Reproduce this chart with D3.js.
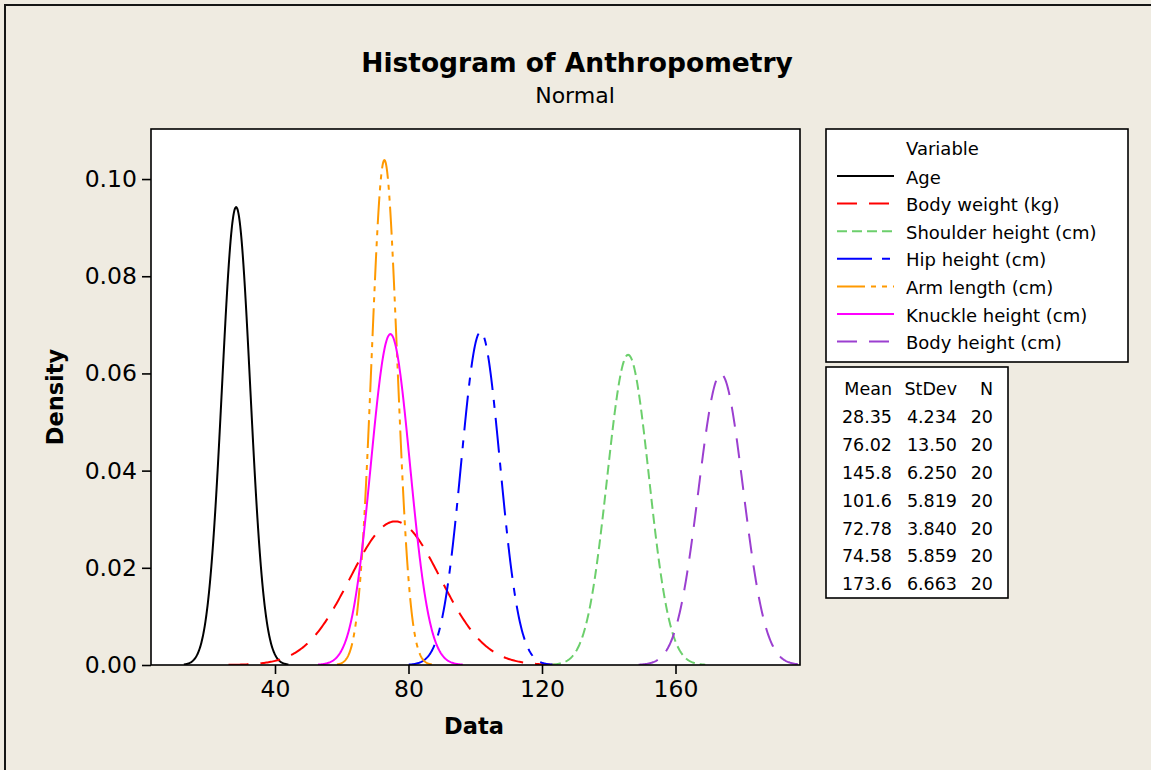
<!DOCTYPE html>
<html>
<head>
<meta charset="utf-8">
<script src="https://cdn.jsdelivr.net/npm/d3@7"></script>
<style>
  html, body { margin: 0; padding: 0; background: #EFEBE1; }
  svg { display: block; font-family: "DejaVu Sans", Verdana, sans-serif; }
</style>
</head>
<body>
<svg id="chart" width="1151" height="770"></svg>
<script>
// ---- Data ----
const variables = ["Age", "Body weight (kg)", "Shoulder height (cm)", "Hip height (cm)",
                   "Arm length (cm)", "Knuckle height (cm)", "Body height (cm)"];
const means   = [28.35, 76.02, 145.8, 101.6, 72.78, 74.58, 173.6];
const stdevs  = [4.234, 13.50, 6.250, 5.819, 3.840, 5.859, 6.663];
const counts  = [20, 20, 20, 20, 20, 20, 20];
const xTicks  = [40, 80, 120, 160];
const yTicks  = [0, 0.02, 0.04, 0.06, 0.08, 0.10];
const colors  = ["#000000", "#FF0000", "#6CCF6C", "#0000FF", "#FF9900", "#FF00FF", "#9B3FD0"];
const dashes  = [null, "20,12", "10,5", "35,10,8,10", "28,6,5,6,5,6", null, "20,12"];

// ---- Layout ----
const svg = d3.select("#chart");
const W = 1151, H = 770;
const plot = { left: 151, right: 800, top: 129, bottom: 665 };

svg.append("rect").attr("x", 0).attr("y", 0).attr("width", W).attr("height", H).attr("fill", "#EFEBE1");
svg.append("rect").attr("x", 5).attr("y", 5).attr("width", W + 50).attr("height", H + 50)
   .attr("fill", "none").attr("stroke", "#151515").attr("stroke-width", 2);

const x = d3.scaleLinear().domain([2.85, 197.3]).range([plot.left, plot.right]);
const y = d3.scaleLinear().domain([0, 0.1103]).range([plot.bottom, plot.top]);

// plot area
svg.append("rect").attr("x", plot.left).attr("y", plot.top)
   .attr("width", plot.right - plot.left).attr("height", plot.bottom - plot.top)
   .attr("fill", "#FFFFFF");

svg.append("defs").append("clipPath").attr("id", "clip")
   .append("rect").attr("x", plot.left).attr("y", plot.top)
   .attr("width", plot.right - plot.left).attr("height", plot.bottom - plot.top);

// fitted normal curves from the mean/stdev values
const pdf = (v, m, s) => Math.exp(-0.5 * ((v - m) / s) ** 2) / (s * Math.sqrt(2 * Math.PI));
const line = d3.line().x(d => x(d[0])).y(d => y(d[1]));
const curves = svg.append("g").attr("clip-path", "url(#clip)");
variables.forEach((name, i) => {
  const m = means[i], s = stdevs[i];
  const lo = m - 3.7 * s, hi = m + 3.7 * s;
  const n = 300;
  const pts = d3.range(n + 1).map(k => {
    const v = lo + (hi - lo) * k / n;
    return [v, pdf(v, m, s)];
  });
  curves.append("path").datum(pts)
    .attr("d", line)
    .attr("fill", "none")
    .attr("stroke", colors[i])
    .attr("stroke-width", 2)
    .attr("stroke-dasharray", dashes[i]);
});

// frame
svg.append("rect").attr("x", plot.left).attr("y", plot.top)
   .attr("width", plot.right - plot.left).attr("height", plot.bottom - plot.top)
   .attr("fill", "none").attr("stroke", "#000").attr("stroke-width", 1.6);

// axes
const xAxis = svg.append("g").attr("transform", `translate(0,${plot.bottom})`)
  .call(d3.axisBottom(x).tickValues(xTicks).tickSize(9).tickPadding(6).tickFormat(d3.format("d")));
const yAxis = svg.append("g").attr("transform", `translate(${plot.left},0)`)
  .call(d3.axisLeft(y).tickValues(yTicks).tickSize(9).tickPadding(5).tickFormat(d3.format(".2f")));
[xAxis, yAxis].forEach(g => {
  g.select(".domain").remove();
  g.selectAll(".tick line").attr("stroke", "#000").attr("stroke-width", 1.6);
  g.selectAll(".tick text").attr("fill", "#000").style("font-size", "23.5px")
   .style("font-family", "'DejaVu Sans', Verdana, sans-serif");
});

// titles
svg.append("text").attr("x", 577).attr("y", 72).attr("text-anchor", "middle")
   .style("font-size", "26.5px").style("font-weight", "bold").text("Histogram of Anthropometry");
svg.append("text").attr("x", 575).attr("y", 103).attr("text-anchor", "middle")
   .style("font-size", "22px").text("Normal");
svg.append("text").attr("x", 474).attr("y", 734).attr("text-anchor", "middle")
   .style("font-size", "22.5px").style("font-weight", "bold").text("Data");
svg.append("text").attr("transform", `translate(63,397) rotate(-90)`).attr("text-anchor", "middle")
   .style("font-size", "22.5px").style("font-weight", "bold").text("Density");

// legend
const lg = svg.append("g");
lg.append("rect").attr("x", 826).attr("y", 129).attr("width", 302).attr("height", 233)
  .attr("fill", "#fff").attr("stroke", "#000").attr("stroke-width", 1.6);
lg.append("text").attr("x", 906).attr("y", 155).style("font-size", "18px").text("Variable");
variables.forEach((name, i) => {
  const by = 183.5 + i * 27.6;
  lg.append("line").attr("x1", 837).attr("x2", 894).attr("y1", by - 7.5).attr("y2", by - 7.5)
    .attr("stroke", colors[i]).attr("stroke-width", 2).attr("stroke-dasharray", dashes[i]);
  lg.append("text").attr("x", 906).attr("y", by).style("font-size", "18px").text(name);
});

// statistics table
const st = svg.append("g");
st.append("rect").attr("x", 826).attr("y", 367).attr("width", 182).attr("height", 231)
  .attr("fill", "#fff").attr("stroke", "#000").attr("stroke-width", 1.6);
const colX = [892, 957, 993];
["Mean", "StDev", "N"].forEach((h, j) => {
  st.append("text").attr("x", colX[j]).attr("y", 395).attr("text-anchor", "end")
    .style("font-size", "17.5px").text(h);
});
const fmt = d3.format(".4r");
variables.forEach((name, i) => {
  const by = 423.3 + i * 27.8;
  [fmt(means[i]), fmt(stdevs[i]), String(counts[i])].forEach((t, j) => {
    st.append("text").attr("x", colX[j]).attr("y", by).attr("text-anchor", "end")
      .style("font-size", "17.5px").text(t);
  });
});
</script>
</body>
</html>
